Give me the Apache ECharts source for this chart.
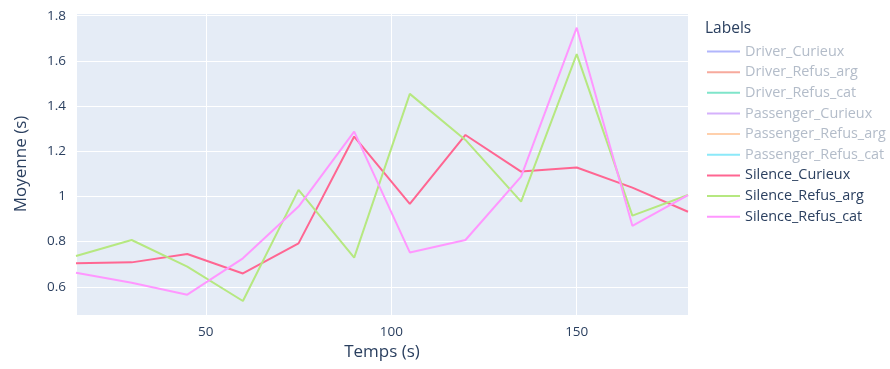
<!DOCTYPE html>
<html>
<head>
<meta charset="utf-8">
<script src="https://cdn.jsdelivr.net/npm/echarts@6/dist/echarts.min.js"></script>
<style>
  html, body { margin: 0; padding: 0; background: #fff; }
  #chart { width: 890px; height: 369px; }
</style>
</head>
<body>
<div id="chart"></div>
<script>
// Time steps (s)
const temps = [15, 30, 45, 60, 75, 90, 105, 120, 135, 150, 165, 180];

// Mean response time per condition (s)
const silenceCurieux = [0.704, 0.708, 0.745, 0.659, 0.792, 1.265, 0.967, 1.272, 1.110, 1.128, 1.039, 0.932];
const silenceRefusArg = [0.736, 0.807, 0.689, 0.537, 1.029, 0.729, 1.454, 1.250, 0.977, 1.630, 0.915, 1.006];
const silenceRefusCat = [0.662, 0.618, 0.565, 0.726, 0.955, 1.287, 0.752, 0.807, 1.088, 1.747, 0.870, 1.006];

// Legend entries; the Driver / Passenger traces are toggled off
const labels = [
  'Driver_Curieux', 'Driver_Refus_arg', 'Driver_Refus_cat',
  'Passenger_Curieux', 'Passenger_Refus_arg', 'Passenger_Refus_cat',
  'Silence_Curieux', 'Silence_Refus_arg', 'Silence_Refus_cat'
];
const hiddenLabels = labels.slice(0, 6);
const values = {
  'Silence_Curieux': silenceCurieux,
  'Silence_Refus_arg': silenceRefusArg,
  'Silence_Refus_cat': silenceRefusCat
};

const palette = ['#636EFA', '#EF553B', '#00CC96', '#AB63FA', '#FFA15A', '#19D3F3', '#FF6692', '#B6E880', '#FF97FF'];
const fadedPalette = ['rgba(99,110,250,0.5)', 'rgba(239,85,59,0.5)', 'rgba(0,204,150,0.5)',
  'rgba(171,99,250,0.5)', 'rgba(255,161,90,0.5)', 'rgba(25,211,243,0.5)'];

const FONT = '"Open Sans", "Noto Sans", sans-serif';
const TEXT = '#2a3f5f';

const series = labels.map((name, i) => ({
  name: name,
  type: 'line',
  data: values[name] ? temps.map((t, k) => [t, values[name][k]]) : [],
  symbol: 'none',
  showSymbol: false,
  lineStyle: { width: 2, color: palette[i] },
  itemStyle: { color: palette[i] },
  emphasis: { disabled: true },
  animation: false
}));

const selected = {};
labels.forEach(n => { selected[n] = hiddenLabels.indexOf(n) < 0; });

const chart = echarts.init(document.getElementById('chart'));
chart.setOption({
  backgroundColor: '#ffffff',
  animation: false,
  textStyle: { fontFamily: FONT },
  color: palette,
  title: {
    text: 'Labels',
    left: 700,
    top: 16,
    textStyle: { fontFamily: FONT, fontSize: 15.5, fontWeight: 'normal', color: TEXT }
  },
  legend: {
    orient: 'vertical',
    left: 701,
    top: 39.5,
    itemWidth: 33,
    itemHeight: 14,
    itemGap: 6.65,
    selected: selected,
    inactiveColor: '#b3bcc9',
    itemStyle: { opacity: 0 },
    textStyle: { fontFamily: FONT, fontSize: 14.4, color: TEXT },
    data: labels.map((n, i) => i < 6
      ? { name: n, inactiveColor: '#b3bcc9', lineStyle: { inactiveColor: fadedPalette[i], inactiveWidth: 2 } }
      : { name: n })
  },
  grid: {
    left: 76,
    right: 202,
    top: 13,
    bottom: 54,
    show: true,
    backgroundColor: '#E5ECF6',
    borderWidth: 0
  },
  xAxis: {
    type: 'value',
    min: 15,
    max: 180,
    minInterval: 50,
    maxInterval: 50,
    name: 'Temps (s)',
    nameLocation: 'middle',
    nameGap: 29,
    nameTextStyle: { fontFamily: FONT, fontSize: 17, color: TEXT },
    axisLine: { show: false },
    axisTick: { show: false },
    axisLabel: { showMinLabel: false, showMaxLabel: false, fontFamily: FONT, fontSize: 13.5, color: TEXT, margin: 10 },
    splitLine: { show: true, lineStyle: { color: '#ffffff', width: 1 } }
  },
  yAxis: {
    type: 'value',
    min: 0.475,
    max: 1.812,
    splitNumber: 7,
    minInterval: 0.2,
    maxInterval: 0.2,
    name: 'Moyenne (s)',
    nameLocation: 'middle',
    nameGap: 46,
    nameTextStyle: { fontFamily: FONT, fontSize: 17, color: TEXT },
    axisLine: { show: false },
    axisTick: { show: false },
    axisLabel: { showMinLabel: false, showMaxLabel: false, fontFamily: FONT, fontSize: 13.5, color: TEXT, margin: 10 },
    splitLine: { show: true, lineStyle: { color: '#ffffff', width: 1 } }
  },
  series: series
});
</script>
</body>
</html>
